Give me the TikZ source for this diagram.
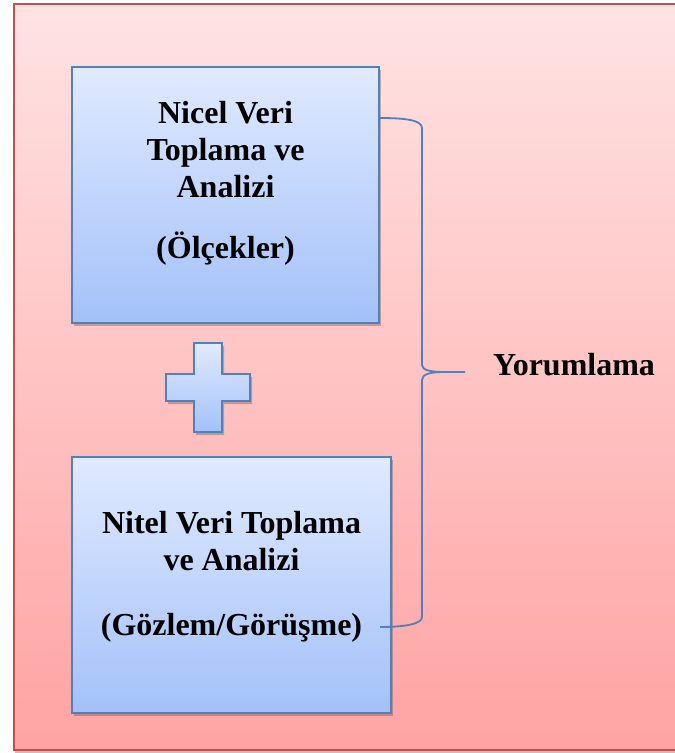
\documentclass[tikz,border=0pt]{standalone}
\usepackage{fontspec}
\setmainfont{Liberation Serif}
\usetikzlibrary{shadows}
\definecolor{frameedge}{RGB}{192,80,77}
\definecolor{frametop}{RGB}{255,227,227}
\definecolor{framebot}{RGB}{255,163,163}
\definecolor{boxedge}{RGB}{79,129,189}
\definecolor{boxtop}{RGB}{224,234,255}
\definecolor{boxbot}{RGB}{163,193,248}
\tikzset{
  frame/.style={rectangle, draw=frameedge, line width=1.6pt, top color=frametop, bottom color=framebot,
    drop shadow={shadow xshift=1pt, shadow yshift=-3pt, opacity=.35, fill=black!70}},
  bluebox/.style={rectangle, draw=boxedge, line width=1.8pt, top color=boxtop, bottom color=boxbot,
    minimum height=256pt, inner sep=0pt,
    drop shadow={shadow xshift=2pt, shadow yshift=-3pt, opacity=.35, fill=black!70}},
  plusshape/.style={draw=boxedge, line width=1.8pt, top color=boxtop, bottom color=boxbot,
    drop shadow={shadow xshift=2pt, shadow yshift=-3pt, opacity=.35, fill=black!70}},
  boxtext/.style={align=center, inner sep=0pt, font=\fontsize{32}{37}\selectfont\bfseries},
  bracel/.style={draw=boxedge, line width=1.8pt},
}
\begin{document}
\begin{tikzpicture}[x=1pt,y=-1pt]
\useasboundingbox (0,0) rectangle (675,753);
\clip (0,0) rectangle (675,753);
\node[frame, minimum width=670pt, minimum height=746pt, anchor=north west] (bg) at (13,3) {};
% boxes
\node[bluebox, minimum width=307pt] (nicel) at (225.5,195) {};
\node[bluebox, minimum width=319pt] (nitel) at (231.5,585) {};
\node[boxtext, anchor=north] (nicelt) at (225.5,101.3)
  {Nicel Veri\\Toplama ve\\Analizi\\[24pt](Ölçekler)};
\node[boxtext, anchor=north] (nitelt) at (231.5,511.3)
  {Nitel Veri Toplama\\ve Analizi\\[28pt](Gözlem/Görüşme)};
% plus
\path[plusshape] (194,343) -- (222,343) -- (222,374) -- (250,374) -- (250,401) -- (222,401)
  -- (222,432) -- (194,432) -- (194,401) -- (166,401) -- (166,374) -- (194,374) -- cycle;
% label
\node[font=\fontsize{32}{37}\selectfont\bfseries, inner sep=0pt, anchor=base west] (yorum) at (493,375) {Yorumlama};
% brace
\coordinate (btop) at (nicel.east |- 0,118);
\coordinate (bbot) at (380,627);
\coordinate (btip) at (465,372);
\path[bracel] (btop) .. controls (405,118) and (422,120) .. (422,128) -- (422,365)
  .. controls (422,370) and (430,372) .. (445,372) -- (btip);
\path[bracel] (445,372) .. controls (430,372) and (422,374) .. (422,380) -- (422,617)
  .. controls (422,624) and (405,627) .. (bbot);
\end{tikzpicture}
\end{document}
